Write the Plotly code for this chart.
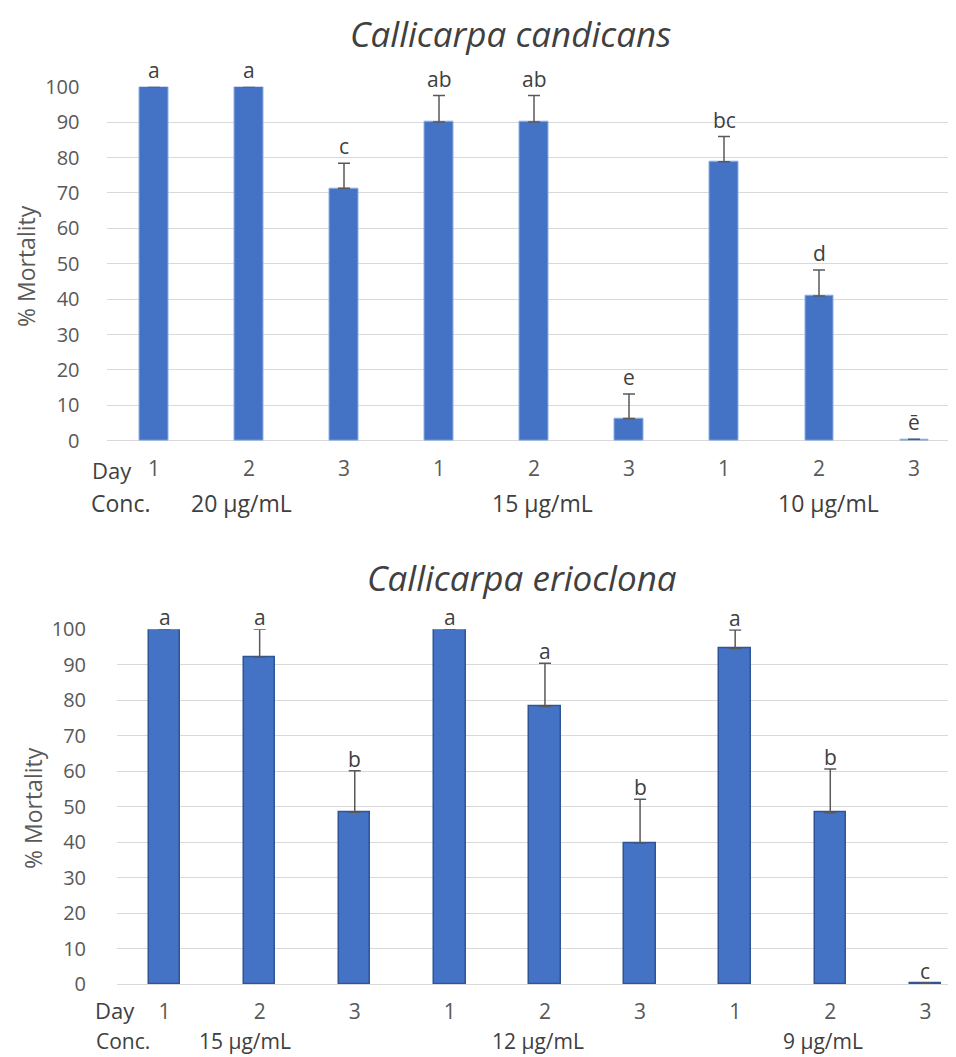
import plotly.graph_objects as go

# ---------------- data ----------------
days = ["1", "2", "3", "1", "2", "3", "1", "2", "3"]

title_top = "Callicarpa candicans"
conc_top = ["20 µg/mL", "15 µg/mL", "10 µg/mL"]
mort_top = [100, 100, 71.3, 90, 90, 6.3, 78.8, 40.9, 0.4]
err_top = [0, 0, 7.1, 7.5, 7.5, 6.9, 7.1, 7.3, 0]
letters_top = ["a", "a", "c", "ab", "ab", "e", "bc", "d", "ē"]

title_bot = "Callicarpa erioclona"
conc_bot = ["15 µg/mL", "12 µg/mL", "9 µg/mL"]
mort_bot = [100, 92.1, 48.4, 100, 78.2, 39.7, 94.6, 48.3, 0.3]
err_bot = [0, 7.9, 11.7, 0, 12.2, 12.4, 5.2, 12.3, 0]
letters_bot = ["a", "a", "b", "a", "a", "b", "a", "b", "c"]

# ---------------- layout helpers ----------------
# the page body has an 8px margin, so the figure is drawn 8px in from the corner
OFF = 8
W, H = 956 - OFF, 1057 - OFF
FONT = "Open Sans"
TXT = "#404040"
TICK = "#595959"
BAR = "#4472C4"


def py(ref_px):
    return 1 - (ref_px - OFF) / H


def px(ref_px):
    return (ref_px - OFF) / W


xs = list(range(len(days)))

fig = go.Figure()

panels = [
    dict(vals=mort_top, err=err_top, letters=letters_top, conc=conc_top, title=title_top,
         xdom=[106.5, 956], ydom=[440.7, 86.7], xr=[-0.5, 8.442],
         width=0.295, line="#8fb0e0", lw=1, shift=17, ystand=26,
         conc_shift=[-8, 8, 9], conc_size=23,
         title_xy=(510, 33), ylab_xy=(26, 266), day_xy=(112, 470), conc_xy=(121, 503)),
    dict(vals=mort_bot, err=err_bot, letters=letters_bot, conc=conc_bot, title=title_bot,
         xdom=[117, 956], ydom=[984, 629.3], xr=[-0.5, 8.322],
         width=0.33, line="#2f5597", lw=1.5, shift=12, ystand=30,
         conc_shift=[-15, -7, -7], conc_size=21,
         title_xy=(522, 577), ylab_xy=(33, 808), day_xy=(115, 1010), conc_xy=(123, 1041)),
]

annotations = []
for i, p in enumerate(panels):
    suffix = "" if i == 0 else "2"
    xref = "x" + suffix
    yref = "y" + suffix
    fig.add_trace(go.Bar(
        x=xs, y=p["vals"], xaxis=xref, yaxis=yref, width=p["width"],
        marker=dict(color=BAR, line=dict(color=p["line"], width=p["lw"])),
        error_y=dict(type="data", symmetric=False, array=p["err"],
                     arrayminus=[0] * len(p["err"]), color="#595959",
                     thickness=1.5, width=6),
        cliponaxis=False, showlegend=False, hoverinfo="skip",
    ))
    fig.layout["xaxis" + suffix] = dict(
        domain=[px(p["xdom"][0]), px(p["xdom"][1])], range=p["xr"],
        anchor="y" + suffix, tickvals=xs, ticktext=days, showgrid=False,
        zeroline=False, showline=False, ticks="", ticklabelstandoff=13,
        automargin=False,
        tickfont=dict(family=FONT, size=21, color=TICK), fixedrange=True,
    )
    fig.layout["yaxis" + suffix] = dict(
        domain=[py(p["ydom"][0]), py(p["ydom"][1])], range=[0, 100],
        anchor="x" + suffix, dtick=10, showgrid=True, gridcolor="#d9d9d9",
        gridwidth=1.2, zeroline=True, zerolinecolor="#d9d9d9", zerolinewidth=1.2,
        showline=False, ticks="", ticklabelstandoff=p["ystand"], automargin=False,
        tickfont=dict(family=FONT, size=20, color=TICK),
    )
    for j, (v, e, l) in enumerate(zip(p["vals"], p["err"], p["letters"])):
        annotations.append(dict(x=j, y=v + e, xref=xref, yref=yref, text=l,
                                showarrow=False, yshift=p["shift"], yanchor="middle",
                                font=dict(family=FONT, size=21, color=TXT)))
    for k, c in enumerate(p["conc"]):
        annotations.append(dict(x=3 * k + 1, y=py(p["conc_xy"][1]), xref=xref, yref="paper",
                                text=c, showarrow=False, yanchor="middle",
                                xshift=p["conc_shift"][k],
                                font=dict(family=FONT, size=p["conc_size"], color=TXT)))
    annotations.append(dict(x=px(p["title_xy"][0]), y=py(p["title_xy"][1]), xref="paper",
                            yref="paper", text="<i>" + p["title"] + "</i>", showarrow=False,
                            yanchor="middle", xanchor="center",
                            font=dict(family=FONT, size=35, color=TXT)))
    annotations.append(dict(x=px(p["ylab_xy"][0]), y=py(p["ylab_xy"][1]), xref="paper",
                            yref="paper", text="% Mortality", textangle=-90, showarrow=False,
                            xanchor="center", yanchor="middle",
                            font=dict(family=FONT, size=23, color=TICK)))
    annotations.append(dict(x=px(p["day_xy"][0]), y=py(p["day_xy"][1]), xref="paper",
                            yref="paper", text="Day", showarrow=False,
                            xanchor="center", yanchor="middle",
                            font=dict(family=FONT, size=22, color=TXT)))
    annotations.append(dict(x=px(p["conc_xy"][0]), y=py(p["conc_xy"][1]), xref="paper",
                            yref="paper", text="Conc.", showarrow=False,
                            xanchor="center", yanchor="middle",
                            font=dict(family=FONT, size=p["conc_size"], color=TXT)))

fig.update_layout(
    width=W, height=H, margin=dict(l=0, r=0, t=0, b=0, autoexpand=False),
    paper_bgcolor="white", plot_bgcolor="white",
    annotations=annotations, bargap=0,
)

fig.write_html("out.html")
